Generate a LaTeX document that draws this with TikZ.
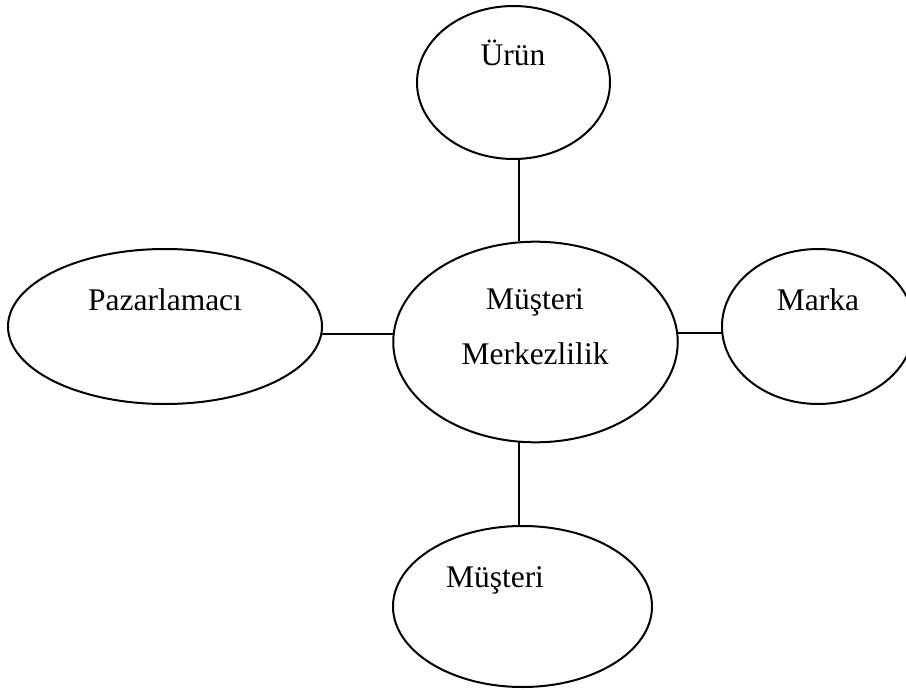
\documentclass[tikz,border=0pt]{standalone}
\usepackage{fontspec}
\setmainfont{Liberation Serif}
\usetikzlibrary{shapes.geometric}
\begin{document}
\begin{tikzpicture}[x=1bp,y=-1bp,
  bubble/.style={ellipse,draw,line width=2bp,inner sep=0pt,outer sep=0pt},
  label/.style={anchor=base,inner sep=0pt,font=\fontsize{31.5bp}{38bp}\selectfont},
  link/.style={line width=2bp}]
  \useasboundingbox (0,0) rectangle (906,690);
  \fill[white] (0,0) rectangle (906,690);

  % ellipses
  \node[bubble,minimum width=284.5bp,minimum height=200.6bp] (mm) at (535.5,342) {};
  \node[bubble,minimum width=193bp,minimum height=153bp]   (ur) at (513.5,82.5) {};
  \node[bubble,minimum width=314bp,minimum height=155bp]   (pz) at (165,326.5) {};
  \node[bubble,minimum width=192bp,minimum height=155bp]   (mk) at (818,326.5) {};
  \node[bubble,minimum width=259bp,minimum height=161bp]   (ms) at (522.5,606.5) {};

  % texts
  \node[label] (t-ur) at (513,66) {Ürün};
  \node[label] (t-pz) at (165,310) {Pazarlamacı};
  \node[label] (t-mk) at (818,310) {Marka};
  \node[label] (t-m1) at (535,309) {Müşteri};
  \node[label] (t-m2) at (535,364) {Merkezlilik};
  \node[label] (t-ms) at (495,587) {Müşteri};

  % connector guides
  \coordinate (vx) at (519.3,0);
  \coordinate (hl) at (0,334);
  \coordinate (hr) at (0,333);

  % connectors
  \draw[link] (ur.south -| vx) -- ([yshift=0.7bp]mm.north -| vx);
  \draw[link] (mm.south -| vx) -- (ms.north -| vx);
  \draw[link] ([xshift=-0.7bp]pz.east |- hl) -- (mm.west |- hl);
  \draw[link] (mm.east |- hr) -- (mk.west |- hr);
\end{tikzpicture}
\end{document}
